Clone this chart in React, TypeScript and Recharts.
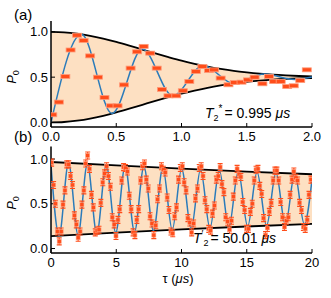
import { ComposedChart, Line, Area, Scatter, XAxis, YAxis } from 'recharts'

// (a) Ramsey fringe, tau in us
const aTau = [0.01, 0.06, 0.11, 0.15, 0.2, 0.25, 0.3, 0.36, 0.41, 0.46, 0.51, 0.56, 0.61, 0.66, 0.71, 0.76, 0.81, 0.85, 0.9, 0.96,
  1.01, 1.06, 1.11, 1.16, 1.21, 1.25, 1.3, 1.36, 1.41, 1.46, 1.51, 1.56, 1.62, 1.67, 1.71, 1.76, 1.81, 1.86, 1.91, 1.96]
const aP0 = [0.085, 0.225, 0.507, 0.8, 0.963, 0.905, 0.735, 0.5, 0.276, 0.184, 0.184, 0.415, 0.6, 0.78, 0.84, 0.765, 0.6, 0.365, 0.294, 0.294,
  0.35, 0.452, 0.562, 0.617, 0.573, 0.581, 0.49, 0.416, 0.441, 0.445, 0.47, 0.5, 0.427, 0.507, 0.452, 0.452, 0.397, 0.405, 0.463, 0.581]
const aFitTau = [0, 0.233, 0.467, 0.7, 0.933, 1.167, 1.4, 1.633, 1.867, 2.0]
const aFitP0 = [0.0, 0.973, 0.1, 0.81, 0.295, 0.63, 0.43, 0.535, 0.475, 0.502]
const aEnvTau = [0, 0.1, 0.2, 0.3, 0.4, 0.5, 0.6, 0.7, 0.8, 0.9, 1.0, 1.1, 1.2, 1.3, 1.4, 1.5, 1.6, 1.7, 1.8, 1.9, 2.0]
const aUpper = [1.0, 0.995, 0.98, 0.957, 0.926, 0.889, 0.848, 0.805, 0.762, 0.721, 0.682, 0.648, 0.617, 0.591, 0.569, 0.552, 0.538, 0.527, 0.519, 0.513, 0.509]
const aLower = [0.0, 0.005, 0.02, 0.043, 0.074, 0.111, 0.152, 0.195, 0.238, 0.279, 0.318, 0.352, 0.383, 0.409, 0.431, 0.448, 0.462, 0.473, 0.481, 0.487, 0.491]

// (b) echo fringe
const bTau = [
  0.05, 0.2, 0.34, 0.49, 0.63, 0.78, 0.92, 1.07, 1.21, 1.36,
  1.5, 1.65, 1.79, 1.94, 2.08, 2.23, 2.37, 2.52, 2.66, 2.81,
  2.95, 3.1, 3.24, 3.39, 3.53, 3.68, 3.82, 3.97, 4.11, 4.26,
  4.4, 4.55, 4.69, 4.84, 4.98, 5.13, 5.27, 5.42, 5.56, 5.71,
  5.85, 6.0, 6.14, 6.29, 6.43, 6.58, 6.72, 6.87, 7.01, 7.16,
  7.3, 7.45, 7.59, 7.74, 7.88, 8.03, 8.17, 8.32, 8.46, 8.61,
  8.75, 8.9, 9.04, 9.19, 9.33, 9.48, 9.62, 9.77, 9.91, 10.06,
  10.2, 10.35, 10.49, 10.64, 10.78, 10.93, 11.07, 11.22, 11.36, 11.51,
  11.65, 11.8, 11.94, 12.09, 12.23, 12.38, 12.52, 12.67, 12.81, 12.96,
  13.1, 13.25, 13.39, 13.54, 13.68, 13.83, 13.97, 14.12, 14.26, 14.41,
  14.55, 14.7, 14.84, 14.99, 15.13, 15.28, 15.42, 15.57, 15.71, 15.86,
  16.0, 16.15, 16.29, 16.44, 16.58, 16.73, 16.87, 17.02, 17.16, 17.31,
  17.45, 17.6, 17.74, 17.89, 18.03, 18.18, 18.32, 18.47, 18.61, 18.76,
  18.9, 19.05, 19.19, 19.34, 19.48, 19.63, 19.77, 19.92]
const bP0 = [
  0.96, 0.71, 0.5, 0.19, 0.08, 0.19, 0.49, 0.65, 0.94, 0.94,
  0.81, 0.71, 0.37, 0.27, 0.12, 0.19, 0.49, 0.65, 0.95, 1.04,
  0.89, 0.6, 0.46, 0.18, 0.2, 0.21, 0.51, 0.74, 0.84, 0.92,
  0.81, 0.69, 0.35, 0.27, 0.14, 0.32, 0.44, 0.76, 0.91, 0.9,
  0.86, 0.59, 0.44, 0.18, 0.15, 0.32, 0.44, 0.76, 0.92, 0.95,
  0.77, 0.67, 0.36, 0.28, 0.15, 0.26, 0.55, 0.67, 0.92, 0.88,
  0.85, 0.57, 0.43, 0.19, 0.17, 0.36, 0.46, 0.77, 0.9, 0.92,
  0.74, 0.65, 0.34, 0.29, 0.18, 0.28, 0.56, 0.67, 0.9, 0.92,
  0.81, 0.54, 0.44, 0.22, 0.2, 0.39, 0.48, 0.77, 0.81, 0.91,
  0.72, 0.63, 0.35, 0.3, 0.21, 0.31, 0.58, 0.76, 0.89, 0.83,
  0.8, 0.52, 0.43, 0.22, 0.22, 0.41, 0.5, 0.76, 0.88, 0.89,
  0.7, 0.61, 0.34, 0.15, 0.23, 0.41, 0.51, 0.76, 0.87, 0.87,
  0.76, 0.52, 0.35, 0.24, 0.31, 0.35, 0.6, 0.77, 0.86, 0.79,
  0.76, 0.51, 0.43, 0.24, 0.22, 0.32, 0.6, 0.77]
const bFitTau = [0, 0.62, 1.345, 2.07, 2.79, 3.51, 4.23, 4.96, 5.68, 6.4, 7.12, 7.85, 8.57, 9.29, 10.01, 10.74, 11.46, 12.18,
  12.9, 13.63, 14.35, 15.07, 15.79, 16.52, 17.24, 17.96, 18.68, 19.41, 20.0]
const bFitP0 = [0.93, 0.144, 0.956, 0.156, 0.944, 0.168, 0.934, 0.178, 0.923, 0.189, 0.913, 0.199, 0.902, 0.209, 0.892, 0.219,
  0.882, 0.229, 0.873, 0.238, 0.864, 0.247, 0.855, 0.256, 0.846, 0.264, 0.837, 0.273, 0.77]
const bEnvTau = [0, 5, 10, 15, 20]
const bUpper = [0.967, 0.928, 0.892, 0.86, 0.83]
const bLower = [0.139, 0.178, 0.214, 0.246, 0.276]

const aTicks = [0, 0.5, 1, 1.5, 2]
const aMinor = [0.25, 0.75, 1.25, 1.75]
const bTicks = [0, 5, 10, 15, 20]
const bMinor = [2.5, 7.5, 12.5, 17.5]
const yTicks = [0, 0.5, 1]

const FONT = '"Liberation Sans", Arial, sans-serif'
const ORANGE = '#ff4d1a'
const tickFont = { fontSize: 13, fill: '#000', fontFamily: FONT }

const MarkA = (p: any) => (
  <rect x={p.cx - 4.5} y={p.cy - 2} width={9} height={4} fill={ORANGE} stroke="#ff9b7a" strokeWidth={0.8} />
)

const MarkB = (p: any) => (
  <g stroke={ORANGE} strokeWidth={1.1}>
    <line x1={p.cx} x2={p.cx} y1={p.cy - 3.5} y2={p.cy + 3.5} />
    <line x1={p.cx - 2.5} x2={p.cx + 2.5} y1={p.cy - 3.5} y2={p.cy - 3.5} />
    <line x1={p.cx - 2.5} x2={p.cx + 2.5} y1={p.cy + 3.5} y2={p.cy + 3.5} />
    <rect x={p.cx - 2} y={p.cy - 2} width={4} height={4} fill={ORANGE} stroke="#ff9b7a" strokeWidth={0.6} />
  </g>
)

function Panel({ top, height, marginTop, xDomain, yDomain, majors, minors, fmt, points, fit, env, marker }: any) {
  const frame = { stroke: '#000', strokeWidth: 1.5 }
  const tl = { stroke: '#000', strokeWidth: 1 }
  return (
    <div style={{ position: 'absolute', left: 0, top }}>
      <ComposedChart width={331} height={height} margin={{ top: marginTop, right: 19, bottom: 0, left: 0 }}>
        <XAxis xAxisId="minor" dataKey="x" type="number" domain={xDomain} ticks={minors} interval={0} height={0}
          tick={false} tickSize={-2.5} tickLine={tl} axisLine={false} allowDataOverflow />
        <XAxis xAxisId="b" dataKey="x" type="number" domain={xDomain} ticks={majors} interval={0} height={23}
          tickSize={-4} tickMargin={8.5} tickLine={tl} axisLine={frame} tick={tickFont} tickFormatter={fmt} allowDataOverflow />
        <XAxis xAxisId="t" orientation="top" dataKey="x" type="number" domain={xDomain} ticks={[...majors, ...minors]}
          interval={0} height={0} tick={false} tickSize={-3.5} tickLine={tl} axisLine={frame} allowDataOverflow />
        <YAxis yAxisId="l" type="number" domain={yDomain} ticks={yTicks} interval={0} width={51} tickSize={-4}
          tickMargin={7} tickLine={tl} axisLine={frame} tick={tickFont} tickFormatter={(v: number) => v.toFixed(1)} allowDataOverflow />
        <YAxis yAxisId="r" orientation="right" type="number" domain={yDomain} ticks={yTicks} interval={0} width={0}
          tickSize={-4} tick={false} tickLine={tl} axisLine={frame} allowDataOverflow />
        <Area xAxisId="b" yAxisId="l" data={env} dataKey="range" type="monotone" fill="#fde0c2" fillOpacity={1}
          stroke="none" isAnimationActive={false} />
        <Line xAxisId="b" yAxisId="l" data={env} dataKey="hi" type="monotone" stroke="#000" strokeWidth={1.8}
          dot={false} isAnimationActive={false} />
        <Line xAxisId="b" yAxisId="l" data={env} dataKey="lo" type="monotone" stroke="#000" strokeWidth={1.8}
          dot={false} isAnimationActive={false} />
        <Line xAxisId="b" yAxisId="l" data={fit} dataKey="y" type="monotoneX" stroke="#2b7bba" strokeWidth={1.5}
          dot={false} isAnimationActive={false} />
        <Scatter xAxisId="b" yAxisId="l" data={points} dataKey="y" shape={marker} isAnimationActive={false} />
      </ComposedChart>
    </div>
  )
}

export default function App() {
  const aPoints = aTau.map((x, i) => ({ x, y: aP0[i] }))
  const aFit = aFitTau.map((x, i) => ({ x, y: aFitP0[i] }))
  const aEnv = aEnvTau.map((x, i) => ({ x, hi: aUpper[i], lo: aLower[i], range: [aLower[i], aUpper[i]] }))
  const bPoints = bTau.map((x, i) => ({ x, y: bP0[i] }))
  const bFit = bFitTau.map((x, i) => ({ x, y: bFitP0[i] }))
  const bEnv = bEnvTau.map((x, i) => ({ x, hi: bUpper[i], lo: bLower[i], range: [bLower[i], bUpper[i]] }))

  const txt = { fontFamily: FONT, fill: '#000' }
  return (
    <div style={{ position: 'absolute', left: 0, top: 0, width: 331, height: 298, background: '#fff' }}>
      <Panel top={0} height={150} marginTop={21} xDomain={[0, 2]} yDomain={[-0.05, 1.12]} majors={aTicks} minors={aMinor}
        fmt={(v: number) => v.toFixed(1)} points={aPoints} fit={aFit} env={aEnv} marker={MarkA} />
      <Panel top={140} height={136} marginTop={6.5} xDomain={[0, 20]} yDomain={[-0.05, 1.14]} majors={bTicks} minors={bMinor}
        fmt={(v: number) => String(v)} points={bPoints} fit={bFit} env={bEnv} marker={MarkB} />
      <svg width={331} height={298} style={{ position: 'absolute', left: 0, top: 0, pointerEvents: 'none' }}>
        <text x={14} y={20} fontSize={15} {...txt}>(a)</text>
        <text x={14} y={142} fontSize={15} {...txt}>(b)</text>
        <text transform="translate(16,77) rotate(-90)" textAnchor="middle" fontSize={13} {...txt}>
          <tspan fontStyle="italic">P</tspan><tspan fontSize={9} dy={3}>0</tspan>
        </text>
        <text transform="translate(16,203) rotate(-90)" textAnchor="middle" fontSize={13} {...txt}>
          <tspan fontStyle="italic">P</tspan><tspan fontSize={9} dy={3}>0</tspan>
        </text>
        <text x={205} y={118} fontSize={14} {...txt}>
          <tspan fontStyle="italic">T</tspan><tspan fontSize={9} dy={3}>2</tspan><tspan fontSize={10} dy={-9}>*</tspan>
          <tspan dy={6} dx={2}>= 0.995 </tspan><tspan fontStyle="italic">μs</tspan>
        </text>
        <text x={193} y={243} fontSize={14} {...txt}>
          <tspan fontStyle="italic">T</tspan><tspan fontSize={10} dy={-5}>′</tspan><tspan fontSize={9} dy={8}>2</tspan>
          <tspan dy={-3} dx={2}>= 50.01 </tspan><tspan fontStyle="italic">μs</tspan>
        </text>
        <text x={178} y={283} textAnchor="middle" fontSize={13} {...txt}>
          τ (<tspan fontStyle="italic">μs</tspan>)
        </text>
      </svg>
    </div>
  )
}
